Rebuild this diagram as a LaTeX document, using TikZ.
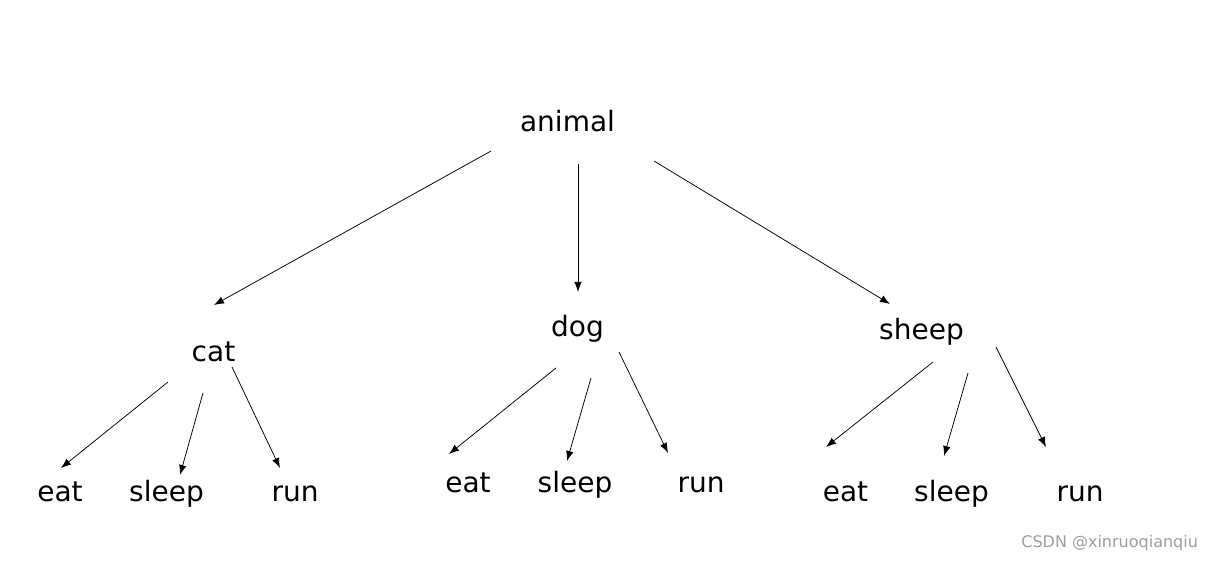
\documentclass[tikz,border=0pt]{standalone}
\usepackage{fontspec}
\setmainfont{DejaVu Sans}
\usetikzlibrary{arrows.meta}
\definecolor{markcol}{rgb}{0.62,0.62,0.62}
\begin{document}
\begin{tikzpicture}[>={Latex[length=10bp,width=7.5bp]},line join=bevel,
  word/.style={anchor=base,inner sep=0pt,font=\fontsize{28bp}{34bp}\selectfont},
]
  \pgfsetlinewidth{0.75bp}
  \useasboundingbox (0bp,0bp) rectangle (1213bp,561bp);
%%
\pgfsetcolor{black}
  % Node: animal
  \node[word] (animal) at (567.5bp,429bp) {animal};
  % Nodes: second level
  \node[word] (cat) at (213.5bp,199bp) {cat};
  \node[word] (dog) at (577.5bp,224bp) {dog};
  \node[word] (sheep) at (921.5bp,221bp) {sheep};
  % Nodes: cat
  \node[word] (cat_eat) at (60bp,59bp) {eat};
  \node[word] (cat_sleep) at (166.5bp,59bp) {sleep};
  \node[word] (cat_run) at (295bp,59bp) {run};
  % Nodes: dog
  \node[word] (dog_eat) at (468bp,68bp) {eat};
  \node[word] (dog_sleep) at (575bp,68bp) {sleep};
  \node[word] (dog_run) at (701bp,68bp) {run};
  % Nodes: sheep
  \node[word] (sheep_eat) at (845.5bp,59bp) {eat};
  \node[word] (sheep_sleep) at (951.5bp,59bp) {sleep};
  \node[word] (sheep_run) at (1080bp,59bp) {run};
  % Edge: animal -> cat
  \draw [->] ([shift={(-76.5bp,-19bp)}]animal.base) -- ([shift={(0.5bp,57bp)}]cat.base);
  % Edge: animal -> dog
  \draw [->] ([shift={(10.5bp,-32bp)}]animal.base) -- ([shift={(0.5bp,45bp)}]dog.base);
  % Edge: animal -> sheep
  \draw [->] ([shift={(86.5bp,-29bp)}]animal.base) -- ([shift={(-31.5bp,36bp)}]sheep.base);
  % Edge: cat -> eat
  \draw [->] ([shift={(-45.5bp,-20bp)}]cat.base) -- ([shift={(1bp,34bp)}]cat_eat.base);
  % Edge: cat -> sleep
  \draw [->] ([shift={(-10.5bp,-31bp)}]cat.base) -- ([shift={(13.5bp,27bp)}]cat_sleep.base);
  % Edge: cat -> run
  \draw [->] ([shift={(18.5bp,-5bp)}]cat.base) -- ([shift={(-15bp,34bp)}]cat_run.base);
  % Edge: dog -> eat
  \draw [->] ([shift={(-21.5bp,-31bp)}]dog.base) -- ([shift={(-19bp,39bp)}]dog_eat.base);
  % Edge: dog -> sleep
  \draw [->] ([shift={(13.5bp,-41bp)}]dog.base) -- ([shift={(-8bp,32bp)}]dog_sleep.base);
  % Edge: dog -> run
  \draw [->] ([shift={(41.5bp,-15bp)}]dog.base) -- ([shift={(-33bp,40bp)}]dog_run.base);
  % Edge: sheep -> eat
  \draw [->] ([shift={(11.5bp,-22bp)}]sheep.base) -- ([shift={(-19.5bp,55bp)}]sheep_eat.base);
  % Edge: sheep -> sleep
  \draw [->] ([shift={(46.5bp,-33bp)}]sheep.base) -- ([shift={(-7.5bp,46bp)}]sheep_sleep.base);
  % Edge: sheep -> run
  \draw [->] ([shift={(74.5bp,-7bp)}]sheep.base) -- ([shift={(-34bp,55bp)}]sheep_run.base);
  % Node: watermark
  \node[anchor=base west,inner sep=0pt,text=markcol,font=\fontsize{16bp}{19bp}\selectfont] (mark) at (1021bp,14bp) {CSDN @xinruoqianqiu};
%
\end{tikzpicture}
\end{document}
